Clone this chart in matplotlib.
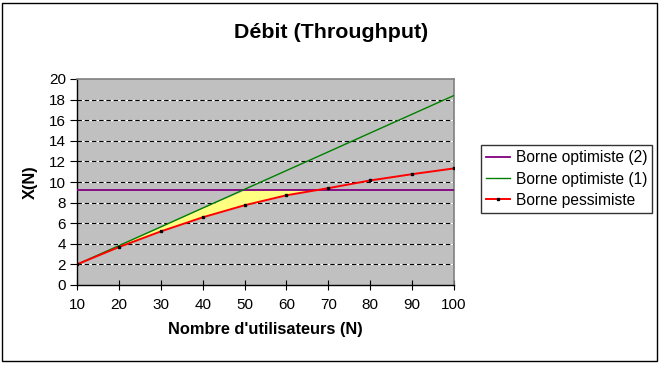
import numpy as np
import matplotlib
matplotlib.use("Agg")
import matplotlib.pyplot as plt
from matplotlib.patches import Rectangle

plt.rcParams['font.family'] = ['Liberation Sans', 'DejaVu Sans']

# data
users = [10, 20, 30, 40, 50, 60, 70, 80, 90, 100]
pessimiste = [2.0, 3.68, 5.2, 6.57, 7.74, 8.71, 9.4, 10.15, 10.76, 11.32]
optimiste1 = [2.0, 3.82, 5.64, 7.47, 9.29, 11.11, 12.93, 14.76, 16.58, 18.4]
optimiste2 = [9.22] * 10

W, H = 662, 365
fig = plt.figure(figsize=(W / 100, H / 100), dpi=100)
fig.patch.set_facecolor('white')

# outer chart border
fig.patches.append(Rectangle((2 / W, 4 / H), 655 / W, 358 / H, transform=fig.transFigure,
                             fill=False, edgecolor='black', linewidth=1.0))

ax = fig.add_axes([77 / W, 1 - 285 / H, 377 / W, 206 / H])
ax.set_facecolor('#c0c0c0')

x = np.array(users, dtype=float)
red = np.array(pessimiste)
green = np.array(optimiste1)
purple = np.array(optimiste2)

# gridlines: black dashes over white
for yv in range(2, 20, 2):
    ax.axhline(yv, color='white', linewidth=0.8, zorder=1)
    ax.axhline(yv, color='black', linewidth=0.8, dashes=(4, 2.5), zorder=1.1)

# yellow zone between pessimistic bound and min of optimistic bounds
upper = np.minimum(green, purple)
ax.fill_between(x, red, upper, where=upper >= red, interpolate=True,
                color='#ffff80', linewidth=0, zorder=2)

ax.plot(x, purple, color='#800080', linewidth=1.3, zorder=3, label='Borne optimiste (2)')
ax.plot(x, green, color='#008000', linewidth=1.0, zorder=3, label='Borne optimiste (1)')
ax.plot(x, red, color='red', linewidth=1.4, marker='s', markersize=1.8,
        markerfacecolor='black', markeredgecolor='black', zorder=4, label='Borne pessimiste')

ax.set_xlim(10, 100)
ax.set_ylim(0, 20)
ax.set_xticks(users)
ax.set_yticks(range(0, 21, 2))
ax.tick_params(axis='x', direction='inout', length=7, width=0.8, labelsize=11, pad=6)
ax.tick_params(axis='y', direction='out', length=5, width=0.8, labelsize=11, pad=3)

for s in ['top', 'right']:
    ax.spines[s].set_color('#808080')
    ax.spines[s].set_linewidth(1.2)
for s in ['left', 'bottom']:
    ax.spines[s].set_color('black')
    ax.spines[s].set_linewidth(1.0)

ax.set_xlabel("Nombre d'utilisateurs (N)", fontsize=11.8, fontweight='bold', labelpad=7)
ax.set_ylabel('X(N)', fontsize=11.8, fontweight='bold', labelpad=8)

fig.text(331 / W, 1 - 32 / H, 'Débit (Throughput)', ha='center', va='center',
         fontsize=15.4, fontweight='bold')

leg = fig.legend(loc='upper left', bbox_to_anchor=(481 / W, 1 - 145 / H),
                 frameon=True, fancybox=False, fontsize=11.2, handlelength=1.5,
                 borderpad=0.35, labelspacing=0.4, handletextpad=0.37, borderaxespad=0)
leg.get_frame().set_edgecolor('black')
leg.get_frame().set_linewidth(1.0)

fig.savefig('out.png', dpi=100)
